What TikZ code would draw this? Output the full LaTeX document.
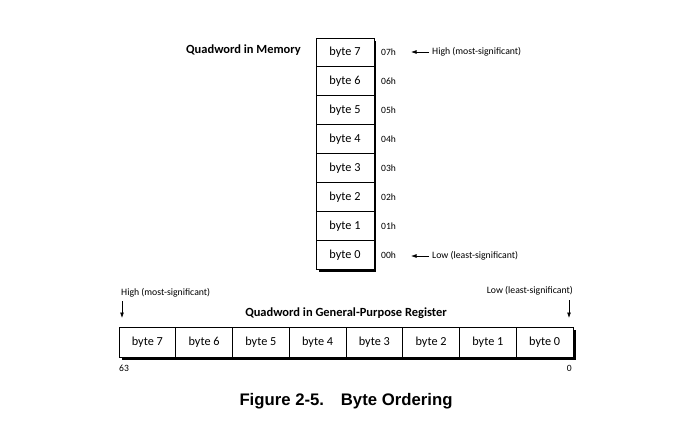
\documentclass[tikz,border=0pt]{standalone}
\usepackage{fontspec}
\setmainfont{Carlito}
\newfontfamily\capfont{Liberation Sans}
\usetikzlibrary{arrows.meta}
\begin{document}
\begin{tikzpicture}[x=1bp,y=-1bp,
  cell/.style={draw, line width=0.9bp, fill=white, minimum width=58bp, minimum height=28.9bp, inner sep=0pt, font=\fontsize{12.3}{14}\selectfont},
  rcell/.style={draw, line width=0.9bp, fill=white, minimum width=56.75bp, minimum height=30bp, inner sep=0pt, font=\fontsize{12.3}{14}\selectfont},
  addr/.style={anchor=west, inner sep=0pt, font=\fontsize{9.6}{11}\selectfont},
  lbl/.style={inner sep=0pt, font=\fontsize{9.8}{11}\selectfont},
  ttl/.style={inner sep=0pt, font=\bfseries\fontsize{12.5}{14}\selectfont},
  arr/.style={-{Latex[length=5.5bp,width=4bp]}, line width=0.8bp},
  shadow/.style={fill=black}]
\fill[white] (0,0) rectangle (687,426);
% memory column
\fill[shadow] (318.5,40.5) rectangle (376,271.5);
\foreach \i in {0,...,7} {
  \pgfmathsetmacro{\yc}{38+28.9*(7-\i)+14.45}
  \node[cell] (m\i) at (345,\yc) {byte \i};
  \node[addr] (a\i) at (381,\yc) {0\i h};
}
\node[ttl, anchor=east] (qm) at (301,50) {Quadword in Memory};
\node[lbl, anchor=west] (hi) at (432,52) {High (most-significant)};
\coordinate (hiend) at (411,52);
\draw[arr] (hi.west) ++(-3,0) -- (hiend);
\node[lbl, anchor=west] (lo) at (432,256) {Low (least-significant)};
\coordinate (loend) at (411,256);
\draw[arr] (lo.west) ++(-3,0) -- (loend);
% register
\fill[shadow] (121.5,329.5) rectangle (575.5,359.5);
\foreach \i in {0,...,7} {
  \pgfmathsetmacro{\xc}{119+56.75*(7-\i)+28.375}
  \node[rcell] (r\i) at (\xc,342) {byte \i};
}
\node[ttl] (qr) at (346,313) {Quadword in General-Purpose Register};
\node[lbl, anchor=west] (rhi) at (121,293) {High (most-significant)};
\coordinate (rhis) at (122,301);
\coordinate (rhie) at (122,318);
\draw[arr] (rhis) -- (rhie);
\node[lbl, anchor=east] (rlo) at (573,291) {Low (least-significant)};
\coordinate (rlos) at (569,300);
\coordinate (rloe) at (569,318);
\draw[arr] (rlos) -- (rloe);
\node[addr] (b63) at (119,368) {63};
\node[addr, anchor=east] (b0) at (572,368) {0};
% caption
\node[inner sep=0pt, font=\capfont\bfseries\fontsize{16.8}{19}\selectfont] (cap) at (346,401) {Figure 2-5.\hspace{1em}Byte Ordering};
\end{tikzpicture}
\end{document}
